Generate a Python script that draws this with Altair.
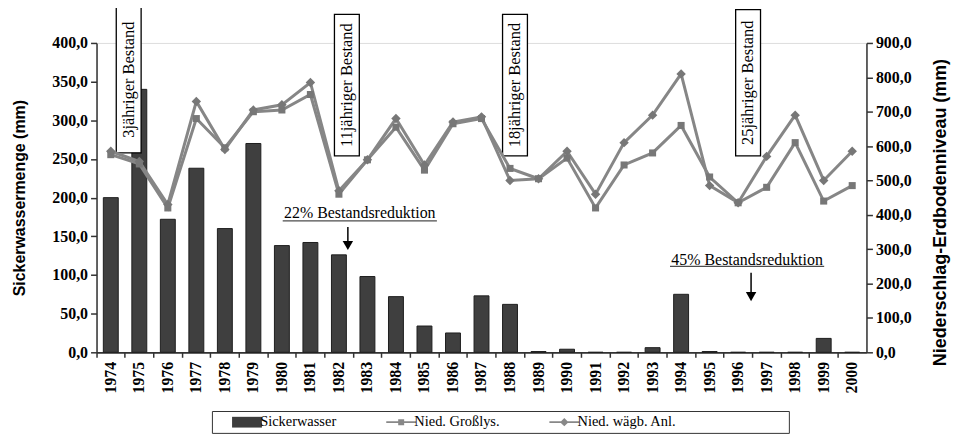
import altair as alt
import pandas as pd

# ---------------- data ----------------
years = [str(y) for y in range(1974, 2001)]
sickerwasser = [200, 340, 172, 238, 160, 270, 138, 142, 126, 98, 72, 34, 25, 73, 62,
                1, 4, 0, 0, 6, 75, 1, 0, 0, 0, 18, 0]
nied_grosslys = [575, 548, 420, 680, 595, 700, 705, 750, 460, 560, 655, 530, 665, 680,
                 535, 505, 565, 420, 545, 580, 660, 510, 435, 480, 610, 440, 485]
nied_waegb = [585, 555, 430, 730, 590, 705, 720, 785, 470, 560, 680, 545, 670, 685,
              500, 505, 585, 460, 610, 690, 810, 485, 435, 570, 690, 500, 585]

series_names = ["Sickerwasser", "Nied. Großlys.", "Nied. wägb. Anl."]
series_colors = ["#3d3d3d", "#888888", "#888888"]

left_ticks = list(range(0, 401, 50))
right_ticks = list(range(0, 901, 100))

# annotation boxes (left-axis units)
box_labels = ["3jähriger Bestand", "11jähriger Bestand", "18jähriger Bestand", "25jähriger Bestand"]
box_years = ["1974", "1982", "1988", "1996"]
box_shift = [18, 8, 5, 10]
box_top = [447, 437, 437, 443]
box_bottom = [258, 254, 254, 254]

red_labels = ["22% Bestandsreduktion", "45% Bestandsreduktion"]
red_years = ["1982", "1996"]
red_text_shift = [21, 9]
red_text_y = [180, 119]
red_line_y = [170, 111]
arrow_shift = [9, 13]
arrow_top = [162, 103]
arrow_head = [138, 72]

# ---------------- styling ----------------
SERIF = "Liberation Serif"
SANS = "Liberation Sans"
AXIS_COLOR = "#333333"
LINE_COLOR = "#868686"
W, H = 774, 311

bars_df = pd.DataFrame({"year": years, "value": sickerwasser})
lines_df = pd.DataFrame({
    "year": years * 2,
    "value": nied_grosslys + nied_waegb,
    "series": [series_names[1]] * len(years) + [series_names[2]] * len(years),
})

xscale = alt.Scale(paddingInner=0, paddingOuter=0)
label_expr_1 = "replace(format(datum.value, '.1f'), '.', ',')"

x_label_axis = alt.Axis(orient="bottom", title=None, ticks=False, labelAngle=270,
                        labelFont=SERIF, labelFontWeight="bold", labelFontSize=16,
                        labelColor="black", labelPadding=9, domainColor=AXIS_COLOR,
                        domainWidth=1.5)
x_tick_axis = alt.Axis(orient="bottom", title=None, labels=False, ticks=True,
                       bandPosition=0, tickSize=5, tickColor=AXIS_COLOR, tickWidth=1.5,
                       domainColor=AXIS_COLOR, domainWidth=1.5)

left_axis = alt.Axis(orient="left", values=left_ticks, labelExpr=label_expr_1, grid=False,
                     title="Sickerwassermenge (mm)", titleFont=SANS,
                     titleFontSize=16, titleFontWeight="bold", titleColor="black",
                     titleX=-77, titleY=H / 2, titleAngle=270, titleBaseline="middle",
                     labelFont=SERIF, labelFontWeight="bold", labelFontSize=16,
                     labelColor="black", labelOverlap=False, tickSize=6,
                     tickColor=AXIS_COLOR, tickWidth=1.5, labelPadding=3,
                     domainColor=AXIS_COLOR, domainWidth=1.5)
right_axis = alt.Axis(orient="right", values=right_ticks, labelExpr=label_expr_1,
                      grid=False, title="Niederschlag-Erdbodenniveau (mm)",
                      titleFont=SANS, titleFontSize=18, titleFontWeight="bold",
                      titleColor="black", titleX=74, titleY=170, titleAngle=270,
                      titleBaseline="middle",
                      labelFont=SERIF, labelFontWeight="bold", labelFontSize=16,
                      labelColor="black", labelOverlap=False, tickSize=6,
                      tickColor=AXIS_COLOR, tickWidth=1.5, labelPadding=3,
                      domainColor=AXIS_COLOR, domainWidth=1.5)

yleft_scale = alt.Scale(domain=[0, 400], nice=False)
yright_scale = alt.Scale(domain=[0, 900], nice=False)


def xl():
    return alt.X("year:N", sort=years, scale=xscale, axis=x_label_axis)


def yl(field):
    return alt.Y(field, scale=yleft_scale, axis=left_axis)


bars = alt.Chart(bars_df).mark_bar(size=15, color="#3f3f3f", stroke="#1e1e1e",
                                   strokeWidth=1).encode(x=xl(), y=yl("value:Q"))

ann_layers = []
for i in range(len(box_labels)):
    d = pd.DataFrame({"year": [box_years[i]], "top": [box_top[i]],
                      "bottom": [box_bottom[i]],
                      "mid": [(box_top[i] + box_bottom[i]) / 2],
                      "label": [box_labels[i]]})
    base = alt.Chart(d)
    ann_layers.append(base.mark_bar(width=25, xOffset=box_shift[i], fill="white",
                                    stroke="black", strokeWidth=1.3).encode(
        x=xl(), y=yl("top:Q"), y2="bottom:Q"))
    ann_layers.append(base.mark_text(angle=270, xOffset=box_shift[i], font=SERIF,
                                     fontSize=16.5, color="black", align="center",
                                     baseline="middle").encode(
        x=xl(), y=yl("mid:Q"), text="label:N"))

for i in range(len(red_labels)):
    d = pd.DataFrame({"year": [red_years[i]], "ty": [red_text_y[i]], "ly": [red_line_y[i]],
                      "at": [arrow_top[i]], "ah": [arrow_head[i]], "label": [red_labels[i]]})
    base = alt.Chart(d)
    ann_layers.append(base.mark_text(xOffset=red_text_shift[i], font=SERIF, fontSize=16,
                                     color="black", align="center",
                                     baseline="middle").encode(
        x=xl(), y=yl("ty:Q"), text="label:N"))
    ann_layers.append(base.mark_tick(orient="horizontal", size=155, thickness=1.2,
                                     xOffset=red_text_shift[i], color="black").encode(
        x=xl(), y=yl("ly:Q")))
    ann_layers.append(base.mark_rule(xOffset=arrow_shift[i], color="black",
                                     strokeWidth=1.5).encode(
        x=xl(), y=yl("at:Q"), y2="ah:Q"))
    ann_layers.append(base.mark_point(shape="triangle-down", filled=True, size=110,
                                      xOffset=arrow_shift[i], color="black",
                                      opacity=1).encode(x=xl(), y=yl("ah:Q")))

# legend (symbols as custom paths)
legend_shapes = [
    "M-2.5,-0.9H2.5V0.9H-2.5Z",
    "M-2.5,-0.15H2.5V0.15H-2.5Z M-0.5,-0.5H0.5V0.5H-0.5Z",
    "M-2.5,-0.15H2.5V0.15H-2.5Z M0,-0.7L0.7,0L0,0.7L-0.7,0Z",
]
pad_expr = ("datum.value == 'Nied. wägb. Anl.' ? datum.label + '"
            + "\u00a0" * 27 + "\u2800' : datum.label")
legend_props = dict(orient="none", legendX=116, legendY=370, direction="horizontal",
                    title=None, symbolSize=144, symbolOffset=24, labelOffset=6,
                    labelFont=SERIF, labelFontSize=14.5, labelColor="black",
                    labelLimit=400, strokeColor="#333333", fillColor="white", padding=4,
                    columnPadding=33, gridAlign="none", symbolStrokeWidth=0,
                    labelExpr=pad_expr)
legend_layer = alt.Chart(pd.DataFrame({"series": series_names})).transform_filter(
    "false").mark_point(filled=True, opacity=1).encode(
    color=alt.Color("series:N", scale=alt.Scale(domain=series_names, range=series_colors),
                    legend=alt.Legend(**legend_props)),
    shape=alt.Shape("series:N", scale=alt.Scale(domain=series_names, range=legend_shapes),
                    legend=alt.Legend(**legend_props)),
)

left = alt.layer(bars, *ann_layers, legend_layer)


def xr():
    return alt.X("year:N", sort=years, scale=xscale, axis=x_tick_axis)


def yr():
    return alt.Y("value:Q", scale=yright_scale, axis=right_axis)


lines = alt.Chart(lines_df).mark_line(color=LINE_COLOR, strokeWidth=3).encode(
    x=xr(), y=yr(), detail="series:N")
pts_sq = alt.Chart(lines_df).transform_filter(
    alt.datum.series == series_names[1]).mark_point(
    shape="square", filled=True, size=50, color="#777777", opacity=1).encode(x=xr(), y=yr())
pts_di = alt.Chart(lines_df).transform_filter(
    alt.datum.series == series_names[2]).mark_point(
    shape="diamond", filled=True, size=90, color="#777777", opacity=1).encode(x=xr(), y=yr())

right = alt.layer(lines, pts_sq, pts_di)

chart = alt.layer(left, right).resolve_scale(y="independent").resolve_axis(
    x="independent").properties(
    width=W, height=H,
    autosize=alt.AutoSizeParams(type="none"),
    padding={"left": 89, "top": 34, "right": 88, "bottom": 84},
).configure_view(strokeWidth=0).configure(background="white")

chart.save("out.html", embed_options={"renderer": "svg", "actions": False})
